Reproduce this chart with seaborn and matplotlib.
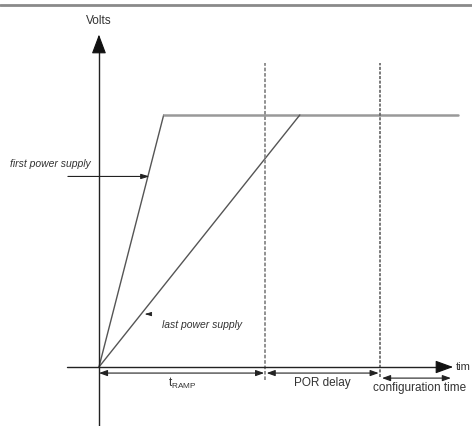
import matplotlib
matplotlib.use("Agg")
import matplotlib.pyplot as plt
import seaborn as sns
import pandas as pd

sns.set_style("white")
plt.rcParams['font.family'] = ['Liberation Sans', 'DejaVu Sans']

# time in arbitrary units, voltage normalised to 1 = full supply
first_t = [0.0, 3.9, 21.6]
first_v = [0.0, 1.0, 1.0]
last_t = [0.0, 12.1]
last_v = [0.0, 1.0]
t_ramp_end = 10.0
por_end = 16.9
config_end = 21.4
# the time axis label is cropped to "tim" in the source image
labels = ["first power supply", "last power supply", "POR delay", "configuration time", "Volts", "tim"]

fig = plt.figure(figsize=(4.72, 4.26), dpi=100)
ax = fig.add_axes([0, 0, 1, 1])
ax.set_xlim(-5.96, 22.47)
ax.set_ylim(-0.234, 1.456)
ax.axis('off')

# top rule from the page
ax.axhline(1.437, color='#8a8a8a', lw=2)

df_first = pd.DataFrame({'t': first_t, 'v': first_v})
df_last = pd.DataFrame({'t': last_t, 'v': last_v})
sns.lineplot(data=df_first.iloc[:2], x='t', y='v', ax=ax, color='#555555', lw=1, sort=False)
sns.lineplot(data=df_first.iloc[1:], x='t', y='v', ax=ax, color='#999999', lw=1.8, sort=False)
sns.lineplot(data=df_last, x='t', y='v', ax=ax, color='#555555', lw=1, sort=False)

# dashed markers
ax.plot([t_ramp_end, t_ramp_end], [-0.052, 1.206], color='#888888', lw=1.3, ls=(0, (2, 1)))
ax.plot([por_end, por_end], [-0.04, 1.206], color='#555555', lw=1.1, ls=(0, (2, 1)))

# axes with arrow heads
ax.plot([0, 0], [-0.234, 1.27], color='#222222', lw=1)
ax.annotate('', xy=(0, 1.33), xytext=(0, 1.26),
            arrowprops=dict(arrowstyle='-|>,head_length=1.2,head_width=0.45', color='#111111', lw=0.8))
ax.plot([-1.93, 20.9], [0, 0], color='#222222', lw=1)
ax.annotate('', xy=(21.5, 0), xytext=(20.8, 0),
            arrowprops=dict(arrowstyle='-|>,head_length=1.1,head_width=0.4', color='#111111', lw=0.8))
ax.text(0, 1.373, labels[4], ha='center', va='center', fontsize=8.5, color='#333333')
ax.text(21.52, 0, labels[5], ha='left', va='center', fontsize=8, color='#333333')

# interval arrows
arr = dict(arrowstyle='<|-|>,head_length=0.5,head_width=0.18', color='#222222', lw=0.8, shrinkA=0, shrinkB=0)
ax.annotate('', xy=(0, -0.024), xytext=(t_ramp_end - 0.05, -0.024), arrowprops=arr)
ax.annotate('', xy=(t_ramp_end + 0.1, -0.024), xytext=(por_end - 0.05, -0.024), arrowprops=arr)
ax.annotate('', xy=(por_end + 0.15, -0.044), xytext=(config_end - 0.2, -0.044), arrowprops=arr)
ax.text(t_ramp_end / 2, -0.066, r'$\mathregular{t_{RAMP}}$', ha='center', va='center', fontsize=8.5, color='#333333')
ax.text((t_ramp_end + por_end) / 2, -0.064, labels[2], ha='center', va='center', fontsize=8.5, color='#333333')
ax.text((por_end + config_end) / 2 + 0.15, -0.084, labels[3], ha='center', va='center', fontsize=8.5, color='#333333')

# curve labels
ax.text(-5.35, 0.805, labels[0], ha='left', va='center', fontsize=7.5, style='italic', color='#333333')
ax.annotate('', xy=(3.05, 0.756), xytext=(-1.87, 0.756),
            arrowprops=dict(arrowstyle='-|>,head_length=0.5,head_width=0.15', color='#222222', lw=0.8, shrinkA=0, shrinkB=0))
ax.text(3.8, 0.167, labels[1], ha='left', va='center', fontsize=7.5, style='italic', color='#333333')
ax.annotate('', xy=(2.75, 0.21), xytext=(3.05, 0.21),
            arrowprops=dict(arrowstyle='-|>,head_length=0.4,head_width=0.12', color='#222222', lw=0.6, shrinkA=0, shrinkB=0))

fig.savefig('out.png', dpi=100)
